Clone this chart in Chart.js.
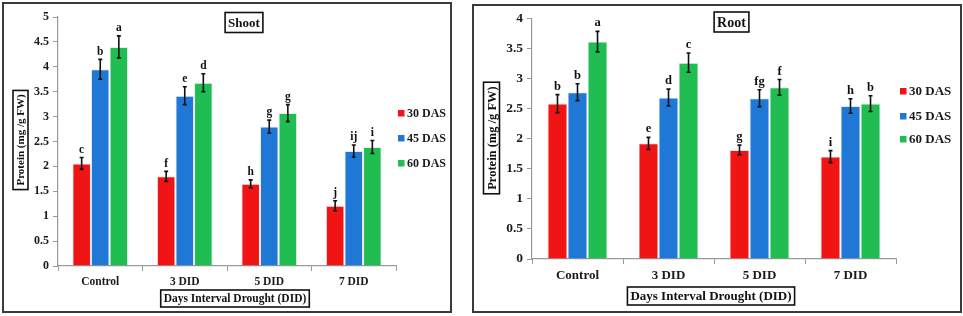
<!DOCTYPE html>
<html>
<head>
<meta charset="utf-8">
<script src="https://cdn.jsdelivr.net/npm/chart.js@4.4.0/dist/chart.umd.min.js"></script>
<style>
  body { margin: 0; background: #fff; width: 963px; height: 316px; overflow: hidden; position: relative; }
  .panel { position: absolute; border: 2px solid #3a3a3a; box-sizing: border-box; background: #fff; }
  .panel canvas { display: block; }
</style>
</head>
<body>
<div class="panel" style="left:2px;top:2px;width:450px;height:311px"><canvas id="shoot" width="446" height="307"></canvas></div>
<div class="panel" style="left:472px;top:4px;width:490px;height:309px"><canvas id="root" width="486" height="305"></canvas></div>
<script>
// datos
const categories = ['Control', '3 DID', '5 DID', '7 DID'];
const seriesNames = ['30 DAS', '45 DAS', '60 DAS'];
const seriesColors = ['#f01414', '#1f78d6', '#20bd52'];

const shoot30 = [2.06, 1.80, 1.65, 1.21];
const shoot45 = [3.95, 3.42, 2.80, 2.31];
const shoot60 = [4.40, 3.68, 3.07, 2.39];
const shootErr30 = [0.12, 0.10, 0.08, 0.10];
const shootErr45 = [0.20, 0.18, 0.13, 0.12];
const shootErr60 = [0.22, 0.18, 0.17, 0.13];
const shootLetters30 = ['c', 'f', 'h', 'j'];
const shootLetters45 = ['b', 'e', 'g', 'ij'];
const shootLetters60 = ['a', 'd', 'g', 'i'];

const root30 = [2.58, 1.92, 1.81, 1.70];
const root45 = [2.77, 2.68, 2.67, 2.54];
const root60 = [3.61, 3.26, 2.85, 2.58];
const rootErr30 = [0.15, 0.10, 0.08, 0.10];
const rootErr45 = [0.14, 0.14, 0.14, 0.12];
const rootErr60 = [0.17, 0.16, 0.13, 0.13];
const rootLetters30 = ['b', 'e', 'g', 'i'];
const rootLetters45 = ['b', 'd', 'fg', 'h'];
const rootLetters60 = ['a', 'c', 'f', 'b'];

const shootTicks = ['0', '0.5', '1', '1.5', '2', '2.5', '3', '3.5', '4', '4.5', '5'];
const rootTicks = ['0', '0.5', '1', '1.5', '2', '2.5', '3', '3.5', '4'];

const FONT = '"Liberation Serif", "Times New Roman", serif';
Chart.defaults.font.family = FONT;
Chart.defaults.font.weight = 'bold';
Chart.defaults.color = '#1a1a1a';

function boxedText(ctx, text, cx, cy, size, padX, h, rotate) {
    ctx.save();
    ctx.translate(cx, cy);
    if (rotate) ctx.rotate(-Math.PI / 2);
    ctx.font = 'bold ' + size + 'px ' + FONT;
    const w = ctx.measureText(text).width + padX * 2;
    ctx.fillStyle = '#fff';
    ctx.fillRect(-w / 2, -h / 2, w, h);
    ctx.strokeStyle = '#111';
    ctx.lineWidth = 1.6;
    ctx.strokeRect(-w / 2, -h / 2, w, h);
    ctx.fillStyle = '#111';
    ctx.textAlign = 'center';
    ctx.textBaseline = 'middle';
    ctx.fillText(text, 0, 1);
    ctx.restore();
}

const extras = {
    id: 'extras',
    afterDatasetsDraw(chart) {
        const ctx = chart.ctx, y = chart.scales.y, o = chart.options.plugins.extras;
        chart.data.datasets.forEach((ds, i) => {
            chart.getDatasetMeta(i).data.forEach((bar, j) => {
                const v = ds.data[j], e = ds.err[j];
                const yt = y.getPixelForValue(v + e), yb = y.getPixelForValue(v - e);
                ctx.save();
                ctx.strokeStyle = '#111';
                ctx.lineWidth = 1.6;
                ctx.beginPath();
                ctx.moveTo(bar.x, yt); ctx.lineTo(bar.x, yb);
                ctx.moveTo(bar.x - 2, yt); ctx.lineTo(bar.x + 2, yt);
                ctx.moveTo(bar.x - 2, yb); ctx.lineTo(bar.x + 2, yb);
                ctx.stroke();
                ctx.fillStyle = '#111';
                ctx.font = 'bold ' + o.letterSize + 'px ' + FONT;
                ctx.textAlign = 'center';
                ctx.textBaseline = 'bottom';
                ctx.fillText(ds.letters[j], bar.x, yt - 2);
                ctx.restore();
            });
        });
    },
    afterDraw(chart) {
        const ctx = chart.ctx, o = chart.options.plugins.extras;
        // leyenda
        chart.data.datasets.forEach((ds, i) => {
            const ly = o.legendY[i];
            ctx.fillStyle = ds.backgroundColor;
            ctx.fillRect(o.legendX, ly - 3, 6.5, 6.5);
            ctx.fillStyle = '#1a1a1a';
            ctx.font = 'bold ' + o.legendSize + 'px ' + FONT;
            ctx.textAlign = 'left';
            ctx.textBaseline = 'middle';
            ctx.fillText(ds.label, o.legendX + 9, ly + 1);
        });
        boxedText(ctx, o.title, o.titleX, o.titleY, o.titleSize, 3, o.titleH, false);
        boxedText(ctx, 'Days Interval Drought (DID)', o.xTitleX, o.xTitleY, o.axisSize, 3, o.axisH, false);
        boxedText(ctx, 'Protein (mg /g FW)', o.yTitleX, o.yTitleY, o.axisSize - 0.5, 4, o.axisH - 2, true);
    }
};

function makeChart(id, values, errs, letters, ticks, cfg) {
    const datasets = seriesNames.map((name, i) => ({
        label: name,
        data: values[i],
        err: errs[i],
        letters: letters[i],
        backgroundColor: seriesColors[i],
        borderColor: 'rgba(0,0,0,0.08)',
        borderWidth: 1,
        barPercentage: 1,
        categoryPercentage: 0.66
    }));
    new Chart(document.getElementById(id), {
        type: 'bar',
        data: { labels: categories, datasets },
        options: {
            responsive: false,
            animation: false,
            layout: { padding: { left: 0, right: cfg.right, top: cfg.top, bottom: 0 } },
            plugins: {
                legend: { display: false },
                tooltip: { enabled: false },
                extras: cfg
            },
            scales: {
                x: {
                    grid: { drawOnChartArea: false, drawTicks: true, tickLength: 5, color: '#9a9a9a' },
                    border: { color: '#9a9a9a', width: 1.2 },
                    ticks: { font: { size: cfg.xTickSize, weight: 'bold' }, padding: 4, color: '#1a1a1a' },
                    afterFit(s) { s.height = cfg.xh; }
                },
                y: {
                    min: 0,
                    max: Number(ticks[ticks.length - 1]),
                    grid: { drawOnChartArea: false, drawTicks: true, tickLength: 5, color: '#9a9a9a' },
                    border: { color: '#9a9a9a', width: 1.2 },
                    ticks: {
                        stepSize: 0.5,
                        padding: 4,
                        font: { size: cfg.yTickSize, weight: 'bold' },
                        color: '#1a1a1a',
                        callback: (v, i) => ticks[i]
                    },
                    afterFit(s) { s.width = cfg.yw; }
                }
            }
        },
        plugins: [extras]
    });
}

makeChart('shoot',
    [shoot30, shoot45, shoot60],
    [shootErr30, shootErr45, shootErr60],
    [shootLetters30, shootLetters45, shootLetters60],
    shootTicks,
    {
        yw: 54, xh: 45, right: 54, top: 13, xTickSize: 11.5, yTickSize: 12, letterSize: 11.5,
        legendX: 394, legendY: [109, 134, 159], legendSize: 12,
        title: 'Shoot', titleX: 240, titleY: 18.5, titleSize: 13, titleH: 20,
        xTitleX: 231, xTitleY: 294.5, axisSize: 11.5, axisH: 17,
        yTitleX: 16.5, yTitleY: 136
    });

makeChart('root',
    [root30, root45, root60],
    [rootErr30, rootErr45, rootErr60],
    [rootLetters30, rootLetters45, rootLetters60],
    rootTicks,
    {
        yw: 58, xh: 52, right: 64, top: 12, xTickSize: 13, yTickSize: 13.5, letterSize: 12.5,
        legendX: 426, legendY: [85, 110, 133], legendSize: 13,
        title: 'Root', titleX: 257.5, titleY: 16, titleSize: 14, titleH: 20,
        xTitleX: 237, xTitleY: 290, axisSize: 13, axisH: 18,
        yTitleX: 17.5, yTitleY: 132
    });
</script>
</body>
</html>
